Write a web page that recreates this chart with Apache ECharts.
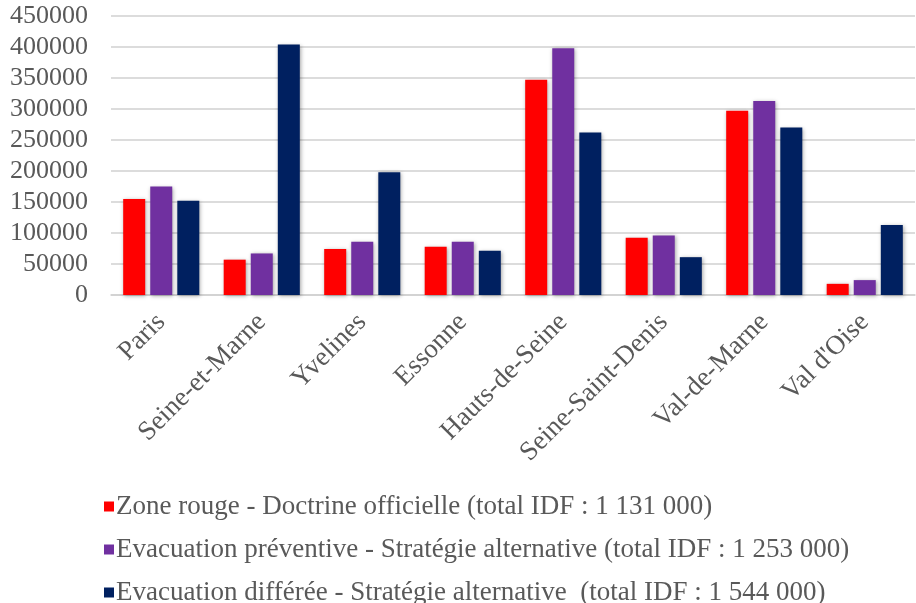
<!DOCTYPE html>
<html><head><meta charset="utf-8">
<script src="https://cdn.jsdelivr.net/npm/echarts@6/dist/echarts.min.js"></script>
<style>html,body{margin:0;padding:0;background:#fff}#c{width:916px;height:603px}</style>
</head><body><div id="c"></div>
<script>
const categories = ['Paris','Seine-et-Marne','Yvelines','Essonne','Hauts-de-Seine','Seine-Saint-Denis','Val-de-Marne',"Val d'Oise"];
const seriesNames = [
  'Zone rouge - Doctrine officielle (total IDF : 1 131 000)',
  'Evacuation préventive - Stratégie alternative (total IDF : 1 253 000)',
  'Evacuation différée - Stratégie alternative  (total IDF : 1 544 000)'
];
const zoneRouge = [155000, 57000, 74000, 78000, 347000, 92500, 297000, 18000];
const evacPreventive = [175000, 67000, 86000, 86000, 398000, 96000, 313000, 24000];
const evacDifferee = [152000, 404000, 198000, 71500, 262000, 61000, 270000, 113000];
const colors = ['#FF0000', '#7030A0', '#002060'];
const font = "'Liberation Serif', 'Times New Roman', serif";

const chart = echarts.init(document.getElementById('c'), null, {renderer: 'canvas'});
const mk = (name, data, i) => ({
  name, type: 'bar', data, barWidth: 22, barGap: '23%',
  itemStyle: {color: colors[i], shadowBlur: 4, shadowColor: 'rgba(0,0,0,0.35)', shadowOffsetX: 1, shadowOffsetY: 1}
});
chart.setOption({
  animation: false,
  grid: {left: 111, right: 1, top: 16, bottom: 308, containLabel: false},
  legend: {
    orient: 'vertical', left: 99, top: 488, height: 150, itemWidth: 10, itemHeight: 10, itemGap: 16,
    icon: 'rect',
    textStyle: {fontFamily: font, fontSize: 27, color: '#595959', padding: [0,0,0,-3]},
    data: seriesNames
  },
  xAxis: {
    type: 'category', data: categories,
    axisLine: {show: true, lineStyle: {color: '#d0d0d0', width: 1.5}},
    axisTick: {show: false},
    axisLabel: {rotate: 45, interval: 0, margin: 23, fontFamily: font, fontSize: 27, color: '#595959'}
  },
  yAxis: {
    type: 'value', min: 0, max: 450000, interval: 50000,
    axisLine: {show: false}, axisTick: {show: false},
    axisLabel: {margin: 23, fontFamily: font, fontSize: 26, color: '#595959', formatter: v => String(v)},
    splitLine: {lineStyle: {color: '#d0d0d0', width: 1.5}}
  },
  series: [mk(seriesNames[0], zoneRouge, 0), mk(seriesNames[1], evacPreventive, 1), mk(seriesNames[2], evacDifferee, 2)]
});
</script></body></html>
